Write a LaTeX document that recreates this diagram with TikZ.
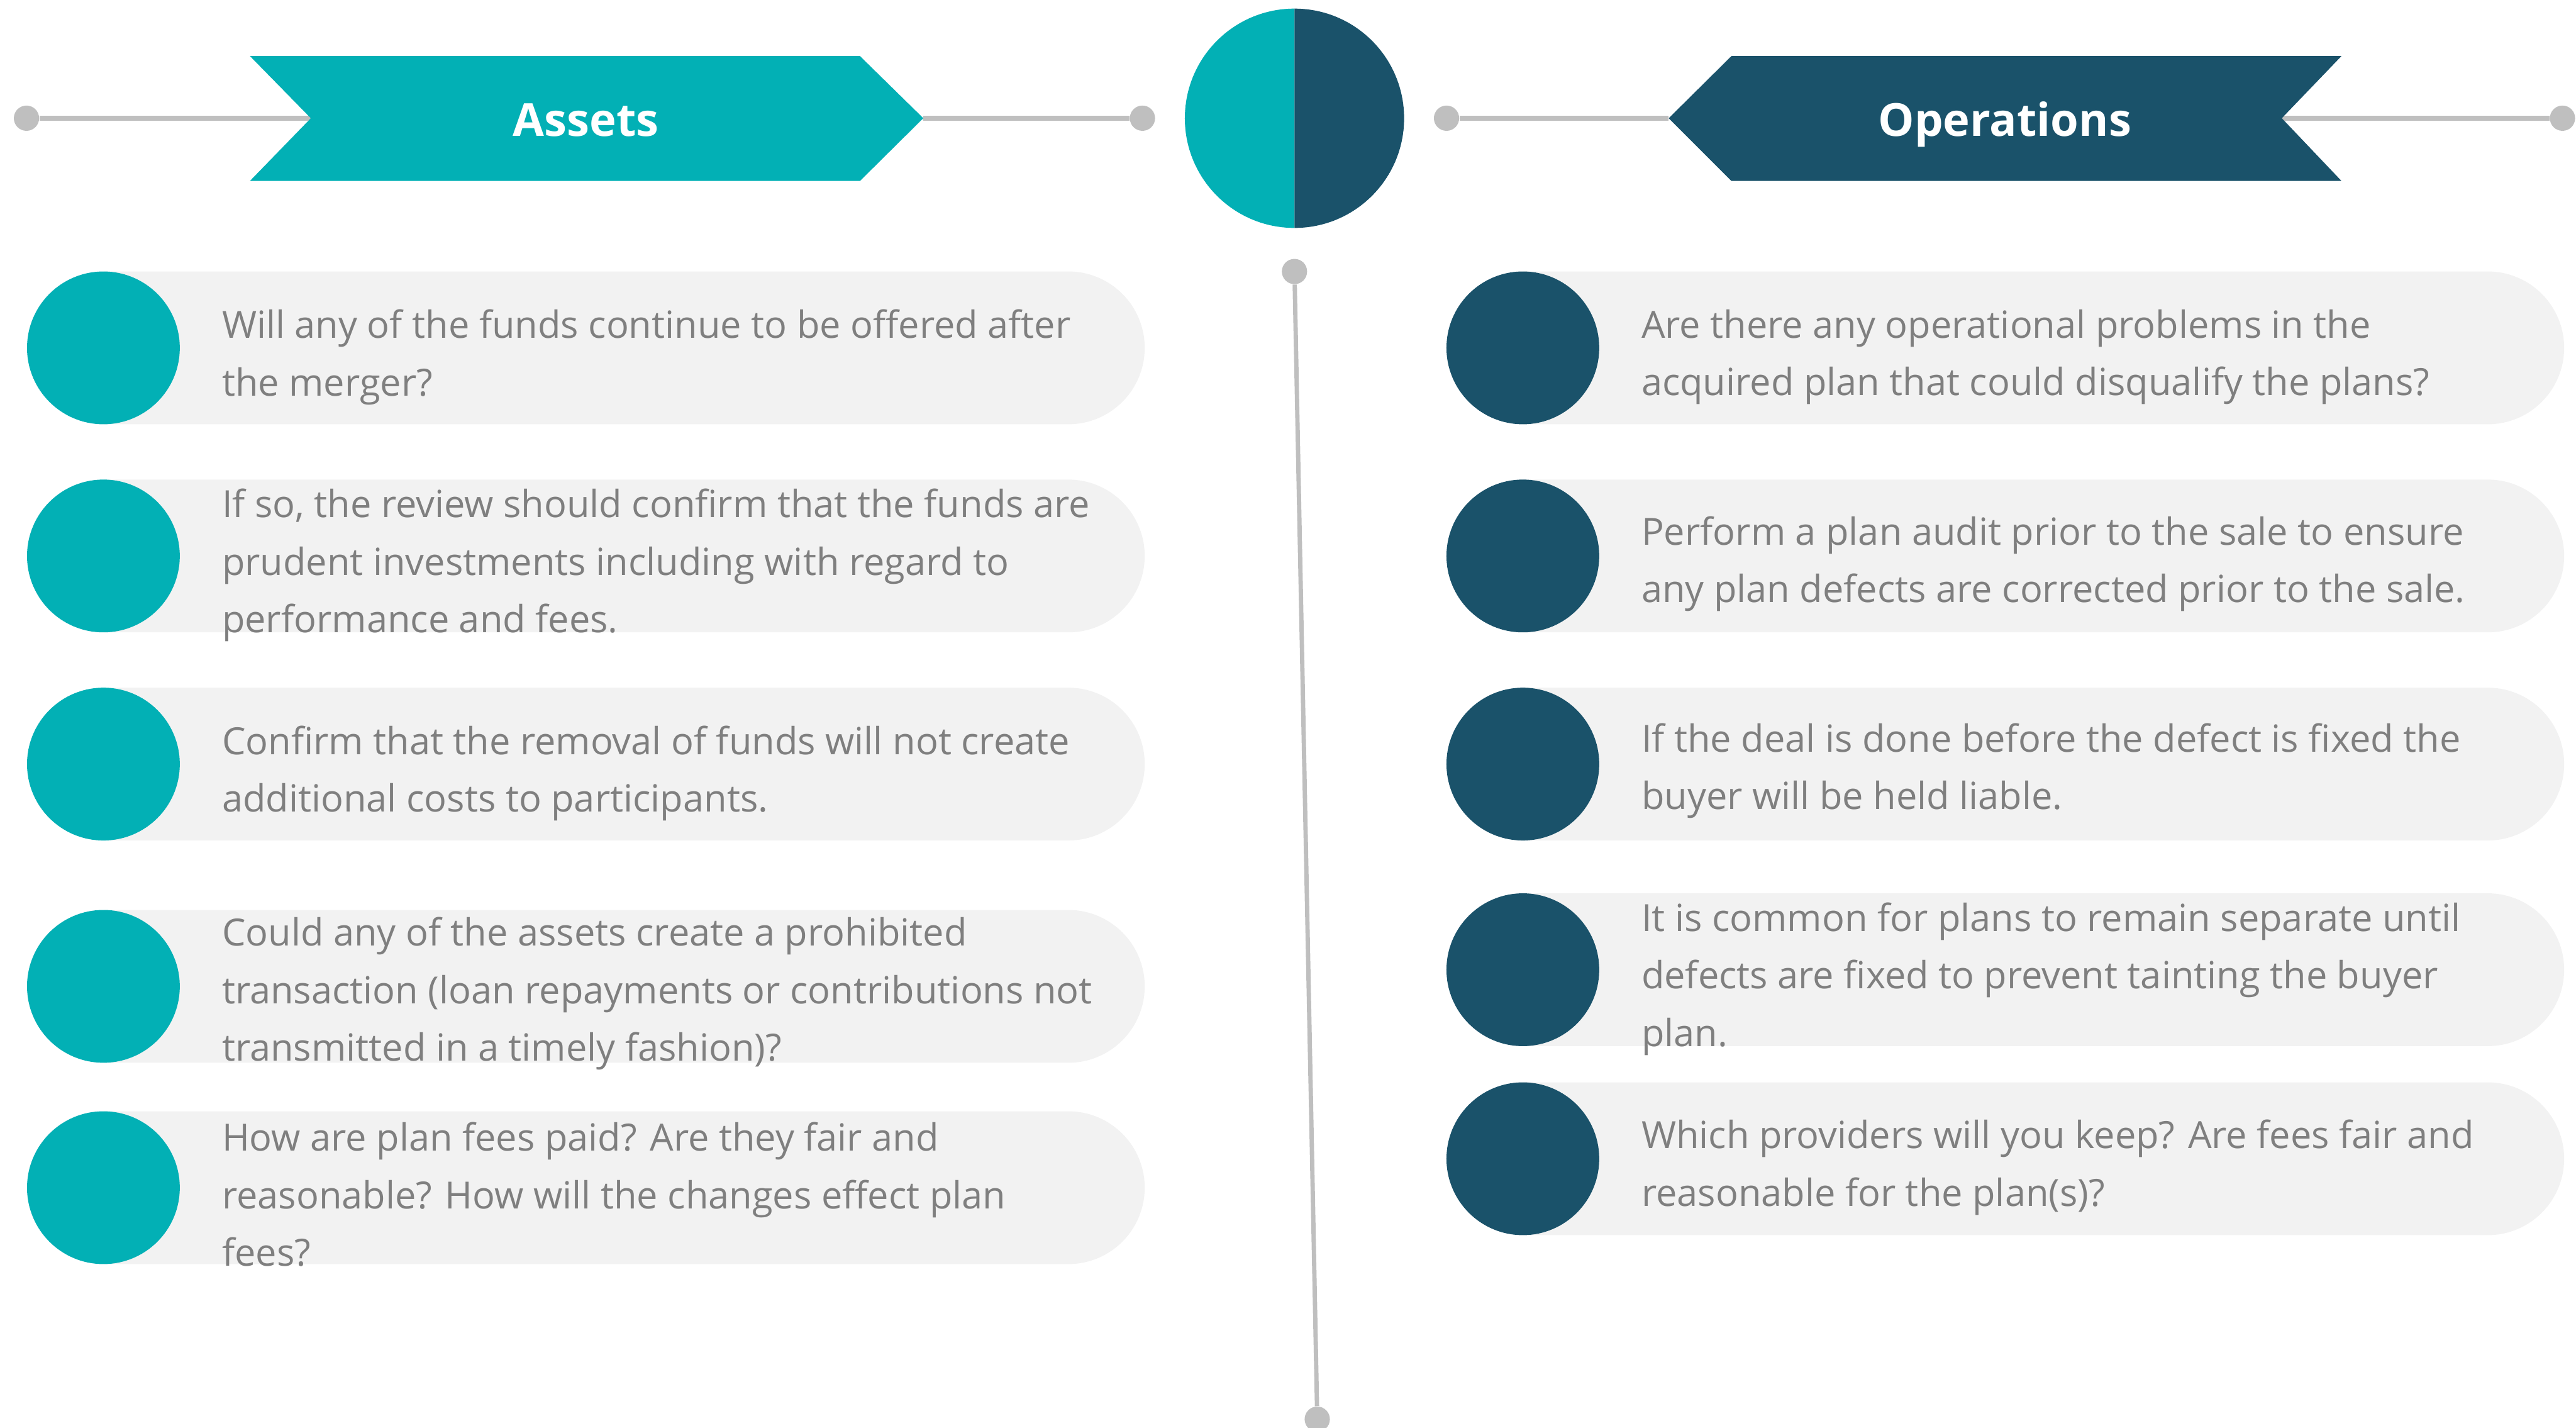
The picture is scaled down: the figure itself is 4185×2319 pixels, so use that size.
\documentclass[tikz,border=0pt]{standalone}
\usepackage{fontspec}
\setmainfont{Open Sans}
\usetikzlibrary{shapes.misc}
\definecolor{teal}{HTML}{02B0B5}
\definecolor{deepblue}{HTML}{1A526A}
\definecolor{rail}{HTML}{BFBFBF}
\definecolor{pillfill}{HTML}{F2F2F2}
\definecolor{bodytext}{HTML}{7F7F7F}
\tikzset{
  railline/.style={draw=rail, line width=0.08cm},
  raildot/.style={circle, fill=rail, minimum size=0.41cm, inner sep=0pt},
  pill/.style={rounded rectangle, rounded rectangle left arc=none, fill=pillfill,
    minimum height=2.48cm, inner sep=0pt, anchor=west},
  bullet/.style={circle, minimum size=2.48cm, inner sep=0pt},
  bodylabel/.style={anchor=west, align=left, text=bodytext, inner sep=0pt,
    font=\fontsize{17.3}{26.6}\selectfont},
  bannertitle/.style={anchor=base, text=white, inner sep=0pt,
    font=\fontsize{21}{25}\selectfont\bfseries}
}
\begin{document}
\begin{tikzpicture}[x=0.01cm, y=-0.01cm]
\useasboundingbox (0,0) rectangle (4185,2319);

% ---- header rails ----
\node[raildot] (la) at (43,192) {};
\node[raildot] (lb) at (1856,192) {};
\node[raildot] (ra) at (2350,192) {};
\node[raildot] (rb) at (4163,192) {};
\coordinate (anotch) at (505,192);
\coordinate (atip) at (1500,192);
\coordinate (otip) at (2711,192);
\coordinate (onotch) at (3707,192);
\draw[railline] (la) -- (anotch);
\draw[railline] (atip) -- (lb);
\draw[railline] (ra) -- (otip);
\draw[railline] (onotch) -- (rb);

% ---- banners ----
\fill[teal] (406,91) -- (1397,91) -- (1500,192) -- (1397,294) -- (406,294) -- (505,192) -- cycle;
\node[bannertitle] (assets) at (952,221) {Assets};
\fill[deepblue] (2711,192) -- (2813,91) -- (3804,91) -- (3707,192) -- (3804,294) -- (2813,294) -- cycle;
\node[bannertitle] (ops) at (3257,221) {Operations};

% ---- centre disc ----
\coordinate (hub) at (2103,192);
\fill[teal] (2103,14) arc[start angle=90, end angle=270, radius=1.78cm] -- cycle;
\fill[deepblue] (2103,14) arc[start angle=90, end angle=-90, radius=1.78cm] -- cycle;

% ---- centre spine ----
\node[raildot] (st) at (2103,441) {};
\node[raildot] (sb) at (2140,2305) {};
\draw[railline, line width=0.07cm] (st) -- (sb);

% ---- left column: assets ----
\foreach \y/\n in {565/a1, 903/a2, 1241/a3, 1602/a4, 1929/a5} {
  \node[pill, minimum width=16.9cm] (p\n) at (168,\y) {};
  \node[bullet, fill=teal] (c\n) at (168,\y) {};
}
\node[bodylabel] (ta1) at (360,580) {Will any of the funds continue to be offered after\\the merger?};
\node[bodylabel] (ta2) at (360,918) {If so, the review should confirm that the funds are\\prudent investments including with regard to\\performance and fees.};
\node[bodylabel] (ta3) at (360,1256) {Confirm that the removal of funds will not create\\additional costs to participants.};
\node[bodylabel] (ta4) at (360,1614) {Could any of the assets create a prohibited\\transaction (loan repayments or contributions not\\transmitted in a timely fashion)?};
\node[bodylabel] (ta5) at (360,1940) {How are plan fees paid? Are they fair and\\reasonable? How will the changes effect plan\\fees?};

% ---- right column: operations ----
\foreach \y/\n in {565/o1, 903/o2, 1241/o3, 1575/o4, 1882/o5} {
  \node[pill, minimum width=16.9cm] (p\n) at (2474,\y) {};
  \node[bullet, fill=deepblue] (c\n) at (2474,\y) {};
}
\node[bodylabel] (to1) at (2666,580) {Are there any operational problems in the\\acquired plan that could disqualify the plans?};
\node[bodylabel] (to2) at (2666,916) {Perform a plan audit prior to the sale to ensure\\any plan defects are corrected prior to the sale.};
\node[bodylabel] (to3) at (2666,1252) {If the deal is done before the defect is fixed the\\buyer will be held liable.};
\node[bodylabel] (to4) at (2666,1590) {It is common for plans to remain separate until\\defects are fixed to prevent tainting the buyer\\plan.};
\node[bodylabel] (to5) at (2666,1896) {Which providers will you keep? Are fees fair and\\reasonable for the plan(s)?};
\end{tikzpicture}
\end{document}
